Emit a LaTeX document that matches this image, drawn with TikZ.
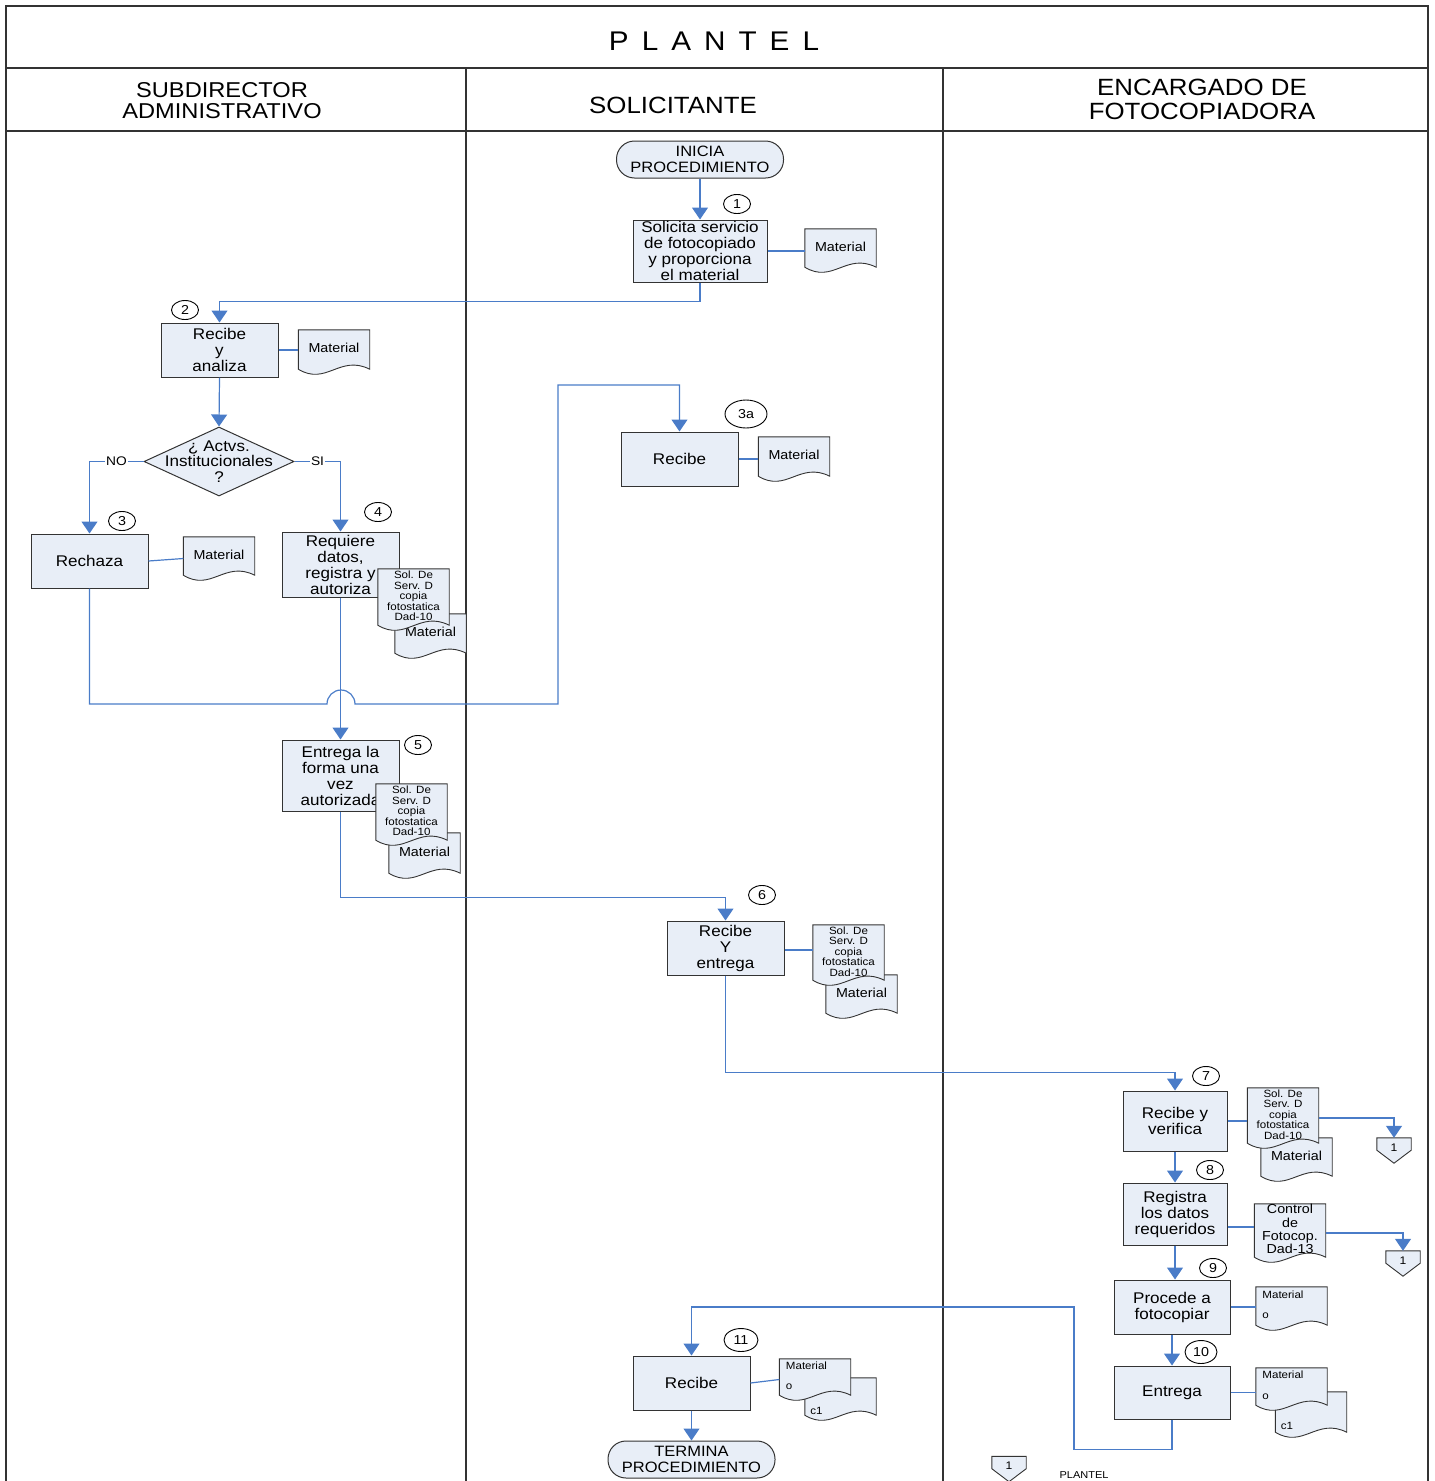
\documentclass[tikz,border=0pt]{standalone}
\usepackage{fontspec}
\setmainfont{Liberation Sans}[FakeStretch=1.1]
\usetikzlibrary{shapes.geometric,arrows.meta}
\definecolor{boxfill}{RGB}{232,238,247}
\definecolor{flowblue}{RGB}{74,124,200}
\tikzset{
  lane/.style={draw=black!80, line width=1.3pt},
  proc/.style={draw=black!80, fill=boxfill, line width=1pt, minimum width=117pt, minimum height=54pt, inner sep=1pt, align=center, font=\fontsize{15.5}{16}\selectfont},
  term/.style={proc, rounded corners=18pt, minimum width=167pt, minimum height=37pt, font=\fontsize{15}{16}\selectfont},
  decis/.style={diamond, draw=black!80, fill=boxfill, line width=1pt, minimum width=150pt, minimum height=69pt, inner sep=0pt},
  num/.style={ellipse, draw=black, fill=white, line width=0.9pt, minimum width=27pt, minimum height=19pt, inner sep=0pt, font=\fontsize{13}{13}\selectfont},
  flow/.style={draw=flowblue, line width=1.2pt, -{Triangle[width=16pt,length=12pt]}},
  link/.style={draw=flowblue, line width=1.2pt},
  answer/.style={fill=white, inner sep=1pt, font=\fontsize{12.5}{12.5}\selectfont},
  docbox/.style={rectangle, draw=none, minimum width=71pt, inner sep=0pt},
  docline/.style={draw=black!80, fill=boxfill, line width=0.9pt},
  doctext/.style={align=center, inner sep=0pt, font=\fontsize{13}{13.3}\selectfont},
  soltext/.style={font=\fontsize{10.5}{10.5}\selectfont},
  smalltext/.style={align=left, font=\fontsize{10.5}{10.5}\selectfont},
  offbox/.style={rectangle, draw=none, minimum width=34pt, minimum height=25pt, inner sep=0pt},
  lanehead/.style={align=center, font=\fontsize{23.5}{24}\selectfont},
}
% document symbol: #1 text options, #2 name, #3 x, #4 y, #5 height, #6 text
\newcommand{\docu}[6][yshift=4pt]{%
  \node[docbox, minimum height=#5pt] (#2) at (#3,#4) {};
  \filldraw[docline] (#2.north west) -- (#2.north east) -- ([yshift=5pt]#2.south east)
    .. controls ([xshift=-30pt,yshift=20pt]#2.south east) and ([xshift=28pt,yshift=-12pt]#2.south west)
    .. ([yshift=5pt]#2.south west) -- cycle;
  \node[doctext, #1] (#2-t) at (#2.center) {#6};
}
% off page connector: #1 name, #2 x, #3 y
\newcommand{\offpg}[3]{%
  \node[offbox] (#1) at (#2,#3) {};
  \filldraw[docline] (#1.north west) -- (#1.north east) -- ([yshift=13pt]#1.south east)
    -- (#1.south) -- ([yshift=13pt]#1.south west) -- cycle;
  \node[font=\fontsize{11}{11}\selectfont, inner sep=0pt] (#1-t) at ([yshift=3pt]#1.center) {1};
}

\begin{document}
\begin{tikzpicture}[x=1pt, y=1pt]
\useasboundingbox (0,0) rectangle (1435,-1481);

% lanes
\draw[lane] (6,-1481) -- (6,-6) -- (1428,-6) -- (1428,-1481);
\draw[lane] (6,-68) -- (1428,-68);
\draw[lane] (6,-131) -- (1428,-131);
\draw[lane] (466,-68) -- (466,-1481);
\draw[lane] (943,-68) -- (943,-1481);
\node[font=\fontsize{27}{27}\selectfont] (title) at (714,-41) {P\hspace{13pt}L\hspace{13pt}A\hspace{13pt}N\hspace{13pt}T\hspace{13pt}E\hspace{13pt}L};
\node[lanehead, font=\fontsize{21.5}{21}\selectfont] (subdir) at (222,-101) {SUBDIRECTOR\\ADMINISTRATIVO};
\node[lanehead] (solic) at (673,-105) {SOLICITANTE};
\node[lanehead] (encarg) at (1202,-99) {ENCARGADO DE\\FOTOCOPIADORA};

% solicitante
\node[term] (ini) at (700,-159.5) {INICIA\\PROCEDIMIENTO};
\node[proc, minimum width=134pt, minimum height=62pt] (sol1) at (700,-251) {Solicita servicio\\de fotocopiado\\y proporciona\\el material};
\node[num] (n1) at (737,-204) {1};
\docu{docm1}{840.5}{-250.5}{43}{Material}

% subdirector
\node[proc] (rec2) at (219.5,-350) {Recibe\\y\\analiza};
\node[num] (n2) at (185,-310) {2};
\docu{docm2}{334}{-352}{44}{Material}
\node[decis] (dec) at (219,-461.5) {};
\node[align=center, font=\fontsize{15.5}{15.5}\selectfont] (dec-t) at (dec) {¿ Actvs.\\Institucionales\\?};

\node[proc] (rech) at (89.5,-561) {Rechaza};
\node[num] (n3) at (122,-521) {3};
\docu{docm3}{219}{-558.5}{43}{Material}

\node[proc, minimum height=65pt] (req) at (340.5,-564.5) {Requiere\\datos,\\registra y\\autoriza};
\node[num] (n4) at (378,-512) {4};
\docu{mat4}{430.5}{-636}{44}{Material}
\docu[yshift=3.5pt, soltext]{sol4}{413.5}{-599.5}{61}{Sol. De\\Serv. D\\copia\\fotostatica\\Dad-10}

\node[proc] (rec3a) at (679.5,-459) {Recibe};
\node[num, minimum width=42pt, minimum height=28pt] (n3a) at (746,-414) {3a};
\docu{docm3a}{794}{-459}{44}{Material}

\node[proc, minimum height=71pt] (ent5) at (340.5,-775.5) {Entrega la\\forma una\\vez\\autorizada};
\node[num] (n5) at (418,-745) {5};
\docu{mat5}{424.5}{-855.5}{45}{Material}
\docu[yshift=3.5pt, soltext]{sol5}{411.5}{-814.5}{61}{Sol. De\\Serv. D\\copia\\fotostatica\\Dad-10}

\node[proc] (rec6) at (725.5,-948) {Recibe\\Y\\entrega};
\node[num] (n6) at (762,-895) {6};
\docu{mat6}{861.5}{-996.5}{43}{Material}
\docu[yshift=3.5pt, soltext]{sol6}{848.5}{-955}{60}{Sol. De\\Serv. D\\copia\\fotostatica\\Dad-10}

% encargado
\node[proc, minimum width=104pt, minimum height=60pt] (rec7) at (1175,-1121) {Recibe y\\verifica};
\node[num] (n7) at (1206,-1076) {7};
\docu{mat7}{1296.5}{-1159.5}{43}{Material}
\docu[yshift=3.5pt, soltext]{sol7}{1283}{-1118}{60}{Sol. De\\Serv. D\\copia\\fotostatica\\Dad-10}
\offpg{off1}{1394}{-1150.5}

\node[proc, minimum width=104pt, minimum height=62pt] (reg8) at (1175,-1214) {Registra\\los datos\\requeridos};
\node[num] (n8) at (1210,-1170) {8};
\docu{ctl8}{1290}{-1233}{58}{Control\\de\\Fotocop.\\Dad-13}
\offpg{off2}{1403}{-1263.5}

\node[proc, minimum width=116pt] (pro9) at (1172,-1307) {Procede a\\fotocopiar};
\node[num] (n9) at (1213,-1268) {9};
\docu[xshift=-8.5pt, yshift=4pt, smalltext]{mo9}{1291.5}{-1308.5}{43}{Material\\[10pt]o}

\node[proc, minimum width=116pt, minimum height=53pt] (ent10) at (1172,-1392.5) {Entrega};
\node[num, minimum width=32pt, minimum height=23pt] (n10) at (1201,-1352) {10};
\docu[xshift=-24pt, yshift=-11.5pt, smalltext]{c10}{1311}{-1414.5}{45}{c1}
\docu[xshift=-8.5pt, yshift=4pt, smalltext]{mo10}{1291.5}{-1389}{42}{Material\\[10pt]o}

\node[proc] (rec11) at (691.5,-1383) {Recibe};
\node[num, minimum width=34pt, minimum height=23pt] (n11) at (741,-1340) {11};
\docu[xshift=-24pt, yshift=-11.5pt, smalltext]{c11}{840.5}{-1399}{42}{c1}
\docu[xshift=-8.5pt, yshift=4pt, smalltext]{mo11}{815}{-1379.5}{41}{Material\\[10pt]o}
\node[term] (fin) at (691.5,-1459.5) {TERMINA\\PROCEDIMIENTO};

\offpg{off3}{1009}{-1469}
\node[font=\fontsize{10}{10}\selectfont] (plfoot) at (1084,-1475) {PLANTEL};

% connectors
\draw[flow] (ini.south) -- (sol1.north);
\draw[link] (sol1.east) -- (sol1.east -| docm1.west);
\draw[flow] (sol1.south) -- ++(0,-19) -| (rec2.north);
\draw[link] (rec2.east) -- (rec2.east -| docm2.west);
\draw[flow] (rec2.south) -- (dec.north);
\draw[flow] (dec.west) -| (rech.north) node[pos=0.25, answer] (lblno) {NO};
\draw[flow] (dec.east) -| (req.north) node[pos=0.25, answer] (lblsi) {SI};
\draw[link] (rech.east) -- (docm3.west);
\draw[flow] (rech.south) |- (327,-704) arc[start angle=180, end angle=0, radius=14]
  -- (558,-704) -- (558,-385) -| (rec3a.north);
\draw[link] (rec3a.east) -- (rec3a.east -| docm3a.west);
\draw[flow] (req.south) -- (ent5.north);
\draw[flow] (ent5.south) -- ++(0,-86) -| (rec6.north);
\draw[link] ([yshift=-2pt]rec6.east) -- ([yshift=-2pt]rec6.east -| sol6.west);
\draw[flow] (rec6.south) -- ++(0,-97) -| (rec7.north);
\draw[link] (rec7.east) -- (rec7.east -| sol7.west);
\draw[flow] (sol7.east) -| (off1.north);
\draw[flow] (rec7.south) -- (reg8.north);
\draw[link] ([yshift=-13pt]reg8.east) -- ([yshift=-13pt]reg8.east -| ctl8.west);
\draw[flow] (ctl8.east) -| (off2.north);
\draw[flow] (reg8.south) -- (reg8.south |- pro9.north);
\draw[link] (pro9.east) -- (pro9.east -| mo9.west);
\draw[flow] (pro9.south) -- (ent10.north);
\draw[link] (ent10.east) -- (ent10.east -| mo10.west);
\draw[flow] (ent10.south) -- ++(0,-30) -| (1074,-1307) -| (rec11.north);
\draw[link] (rec11.east) -- (mo11.west);
\draw[flow] (rec11.south) -- (fin.north);
\end{tikzpicture}
\end{document}
